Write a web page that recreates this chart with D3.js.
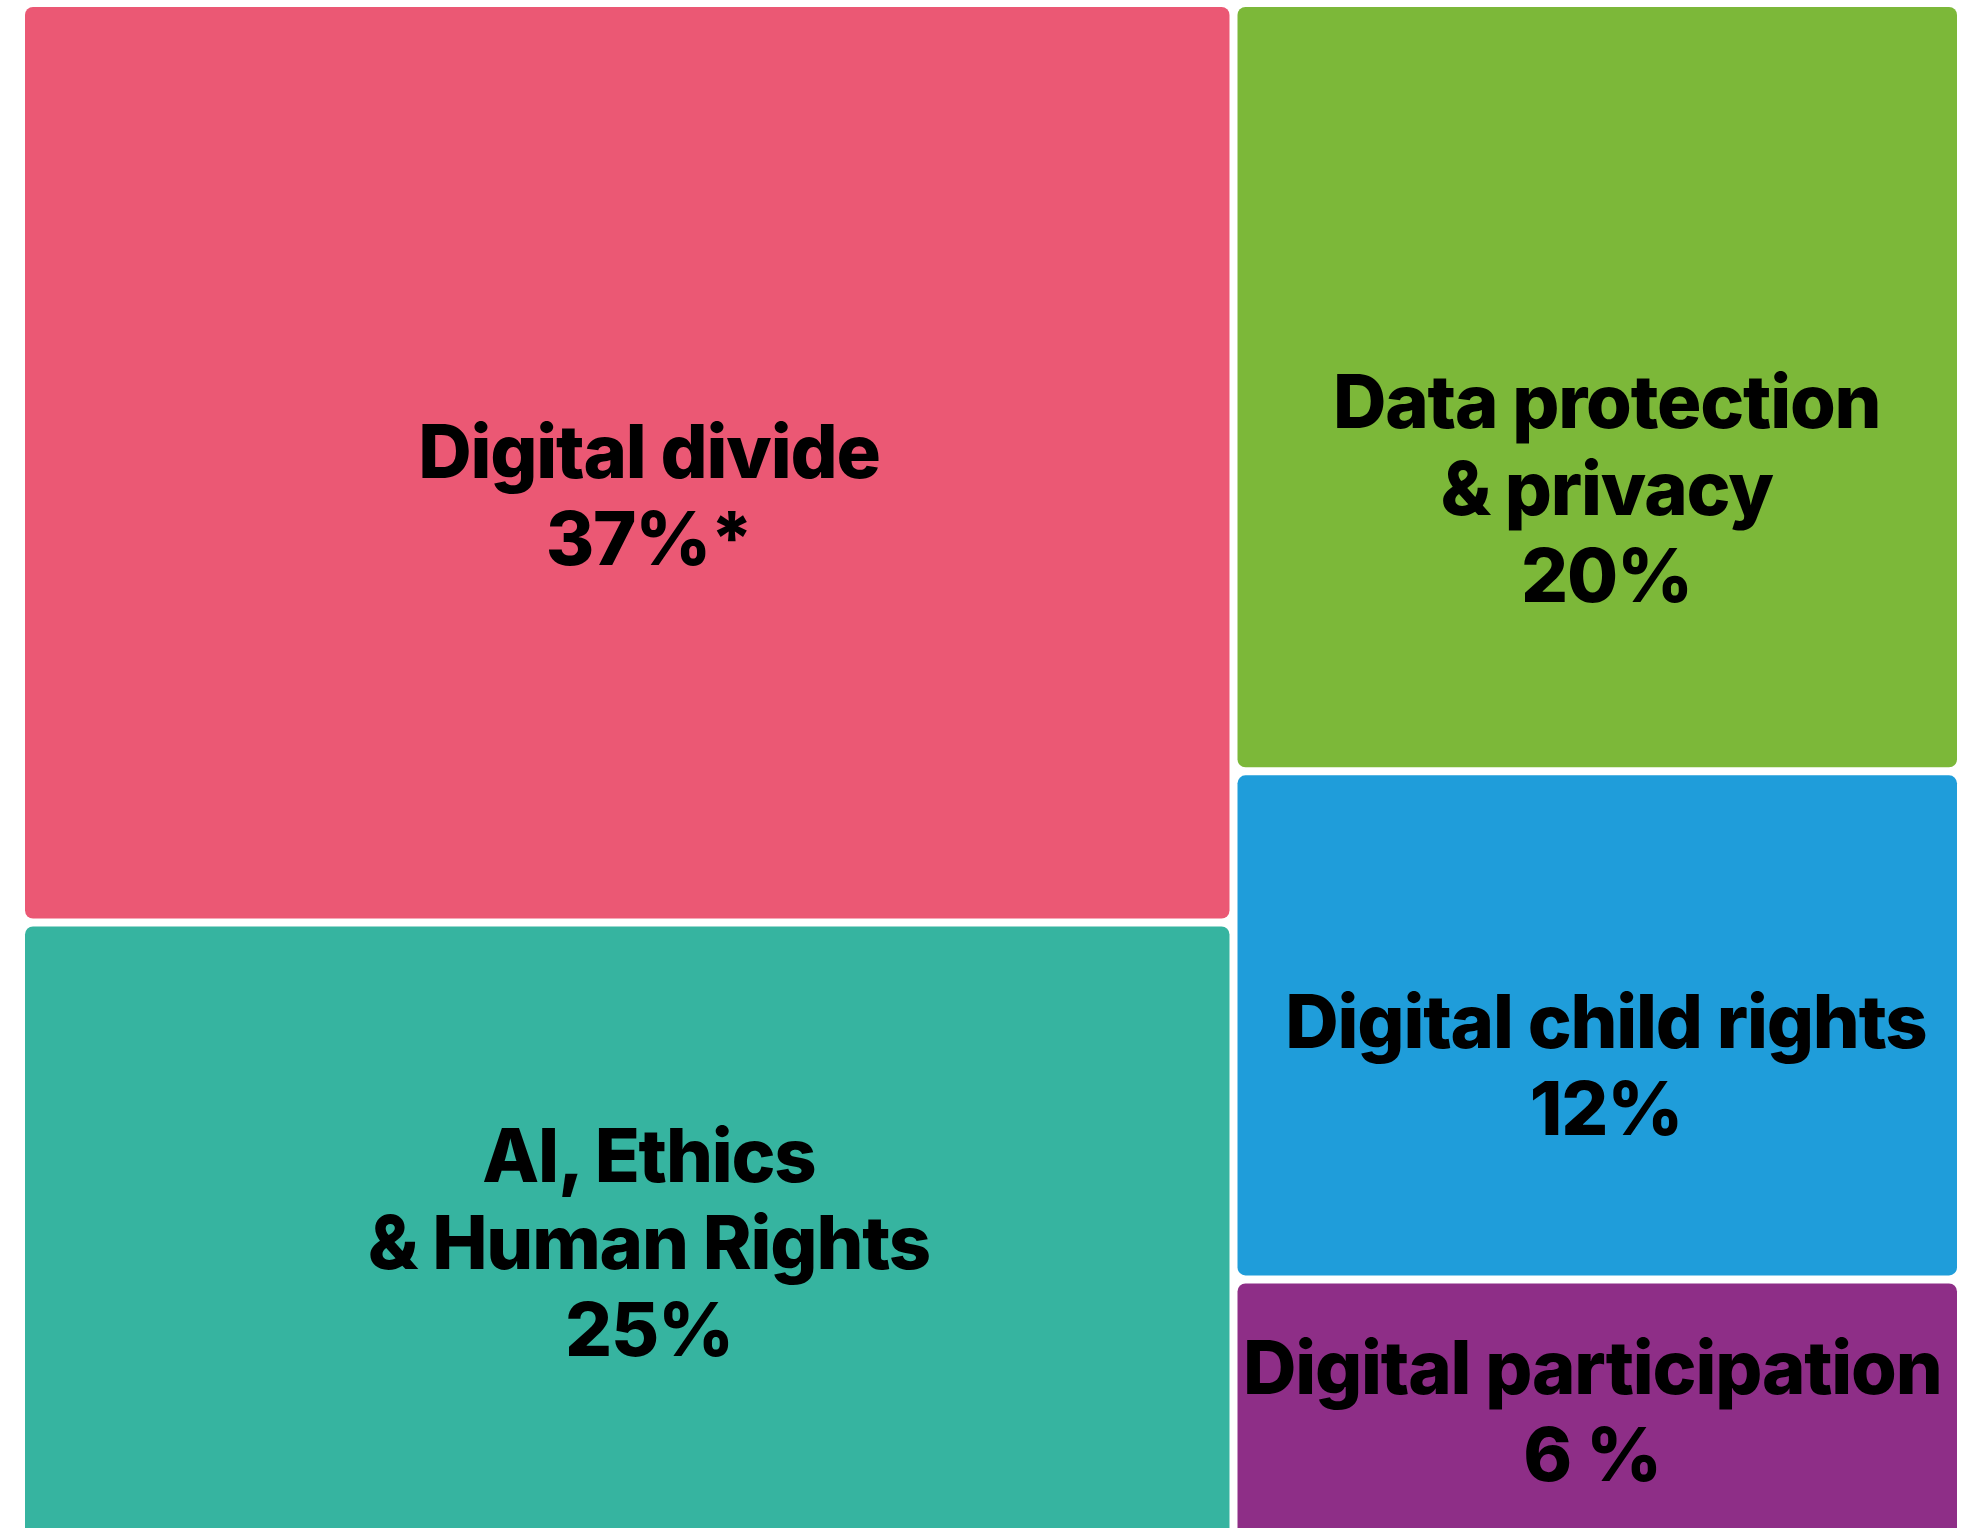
<!DOCTYPE html>
<html>
<head>
<meta charset="utf-8">
<script src="https://cdn.jsdelivr.net/npm/d3@7"></script>
<style>
  html, body { margin: 0; padding: 0; background: #ffffff; overflow: hidden; }
  svg { display: block; }
</style>
</head>
<body>
<script>
// ---- data ----
const categories = ["Digital divide", "AI, Ethics & Human Rights", "Data protection & privacy", "Digital child rights", "Digital participation"];
const percentages = [37, 25, 20, 12, 6];
const percentLabels = ["37%*", "25%", "20%", "12%", "6 %"];
const nameLines = [["Digital divide"], ["AI, Ethics", "& Human Rights"], ["Data protection", "& privacy"], ["Digital child rights"], ["Digital participation"]];
const columnOf = ["left", "left", "right", "right", "right"];
const tileShares = [37.1, 25.4, 18.6, 12.3, 6.6];
const colors = ["#EB5874", "#36B4A0", "#7CB839", "#1F9DDA", "#8E2E87"];

// ---- layout config ----
const W = 1970, H = 1528;
const margin = { left: 25, top: 7 };
const mapW = 1932, mapH = 1541;
const fontSize = 74, lineGap = 87, capH = 54;
// label anchor as fraction of tile width / height
const labelAnchor = [[0.518, 0.535], [0.518, 0.507], [0.513, 0.632], [0.512, 0.578], [0.493, 0.479]];

const svg = d3.select("body").append("svg").attr("width", W).attr("height", H);

const rootData = {
  name: "root",
  children: ["left", "right"].map(col => ({
    name: col,
    children: categories.map((c, i) => ({ i, name: c })).filter(d => columnOf[d.i] === col)
  }))
};

const root = d3.hierarchy(rootData)
  .sum(d => d.children ? 0 : tileShares[d.i]);

d3.treemap()
  .size([mapW, mapH])
  .paddingInner(8)
  .round(false)
  .tile((node, x0, y0, x1, y1) => {
    if (node.depth === 0) d3.treemapDice(node, x0, y0, x1, y1);
    else d3.treemapSlice(node, x0, y0, x1, y1);
  })(root);

const g = svg.append("g").attr("transform", `translate(${margin.left},${margin.top})`);

const leaves = g.selectAll("g.leaf").data(root.leaves()).join("g").attr("class", "leaf");

leaves.append("rect")
  .attr("x", d => d.x0).attr("y", d => d.y0)
  .attr("width", d => d.x1 - d.x0).attr("height", d => d.y1 - d.y0)
  .attr("rx", 8).attr("ry", 8)
  .attr("fill", d => colors[d.data.i]);

leaves.each(function(d) {
  const i = d.data.i;
  const lines = nameLines[i].concat([percentLabels[i]]);
  const cx = d.x0 + labelAnchor[i][0] * (d.x1 - d.x0);
  const cy = d.y0 + labelAnchor[i][1] * (d.y1 - d.y0);
  const block = (lines.length - 1) * lineGap + capH;
  const firstBase = cy - block / 2 + capH;
  const t = d3.select(this).append("text")
    .attr("text-anchor", "middle")
    .attr("font-family", "Inter, 'Noto Sans', sans-serif")
    .attr("font-weight", 800)
    .attr("font-size", fontSize)
    .attr("letter-spacing", "-1.2px")
    .attr("fill", "#000");
  lines.forEach((ln, k) => {
    t.append("tspan").attr("x", cx).attr("y", firstBase + k * lineGap).text(ln);
  });
});
</script>
</body>
</html>
